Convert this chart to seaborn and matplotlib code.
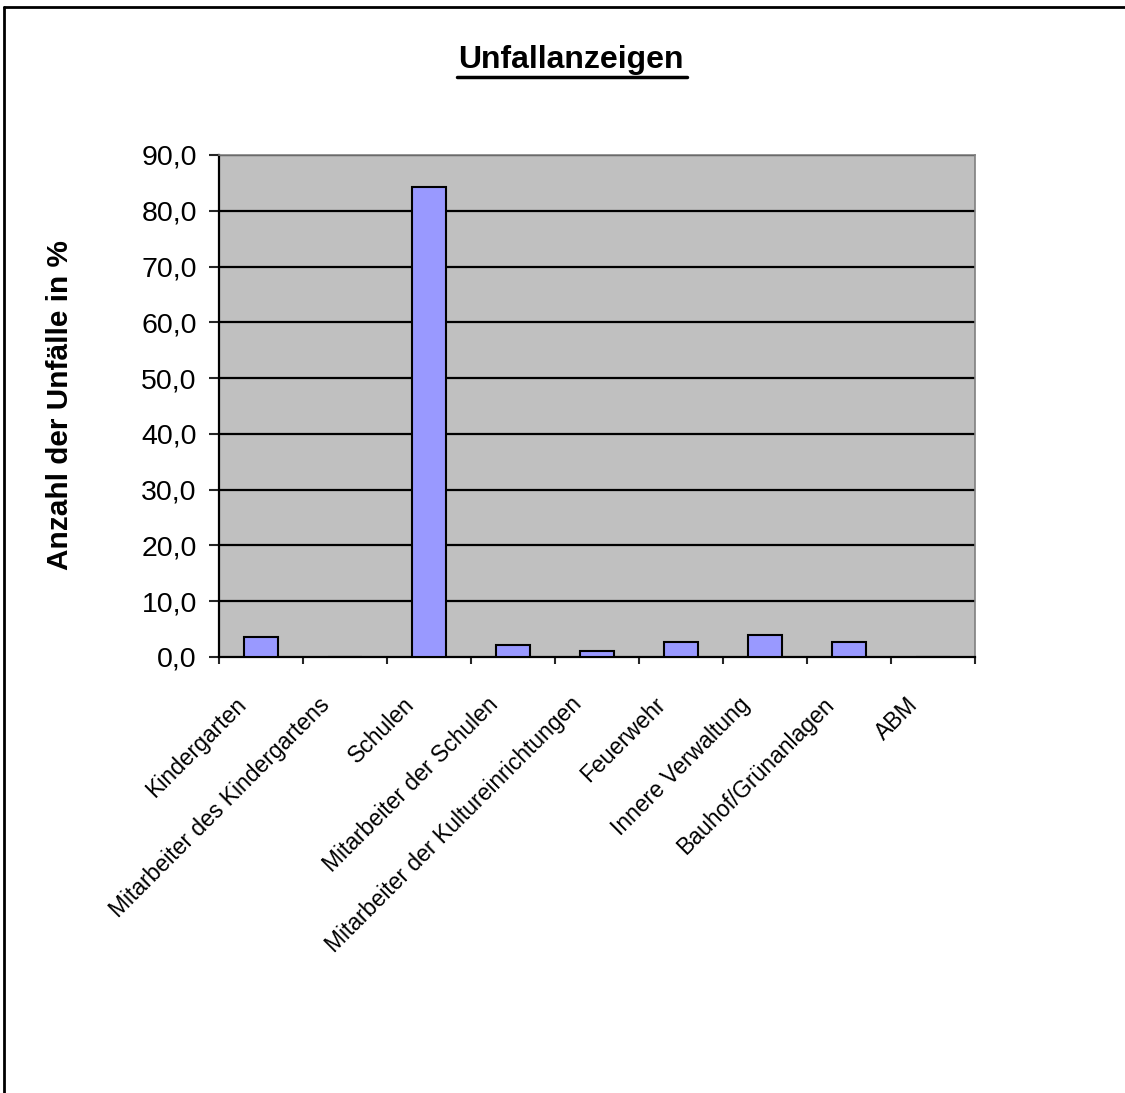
import matplotlib
matplotlib.use('Agg')
import matplotlib.pyplot as plt
import matplotlib.lines as mlines
import matplotlib.transforms as mtransforms
import seaborn as sns
import pandas as pd
from matplotlib.ticker import FuncFormatter, FixedLocator

# data
categories = ['Kindergarten', 'Mitarbeiter des Kindergartens', 'Schulen',
              'Mitarbeiter der Schulen', 'Mitarbeiter der Kultureinrichtungen',
              'Feuerwehr', 'Innere Verwaltung', 'Bauhof/Grünanlagen', 'ABM']
values = [3.6, 0.0, 84.3, 2.2, 1.1, 2.6, 4.0, 2.6, 0.0]
yticks = [0, 10, 20, 30, 40, 50, 60, 70, 80, 90]

df = pd.DataFrame({'Bereich': categories, 'Prozent': values})

sns.set_style('white')
plt.rcParams['font.family'] = ['Liberation Sans', 'DejaVu Sans']
plt.rcParams['text.color'] = 'black'

W, H = 1125, 1093
fig = plt.figure(figsize=(W / 100, H / 100), dpi=100)
ax = fig.add_axes([219/W, 1-657/H, (975-219)/W, (657-155)/H])
ax.set_facecolor('#C0C0C0')

sns.barplot(data=df, x='Bereich', y='Prozent', color='#9999FF', width=0.4,
            edgecolor='black', linewidth=1.5, saturation=1, ax=ax, zorder=3)

ax.set_ylim(0, 90)
ax.set_xlim(-0.5, len(categories) - 0.5)
ax.set_yticks(yticks)
ax.yaxis.set_major_formatter(FuncFormatter(lambda v, p: f'{v:.1f}'.replace('.', ',')))
ax.tick_params(axis='y', labelsize=20.5, labelcolor='black', length=7, width=1.5,
               direction='out', left=True, pad=9)
for t in yticks[1:]:
    ax.axhline(t, color='black', linewidth=1.6, zorder=1)

# category ticks between categories, labels at centres
ax.xaxis.set_major_locator(FixedLocator([i - 0.5 for i in range(len(categories) + 1)]))
ax.xaxis.set_major_formatter(FuncFormatter(lambda v, p: ''))
ax.xaxis.set_minor_locator(FixedLocator(list(range(len(categories)))))
ax.set_xticklabels(categories, minor=True, rotation=45, ha='right', va='baseline',
                   rotation_mode='anchor', fontsize=16.5, color='black')
ax.tick_params(axis='x', which='major', length=5, width=1.5, direction='out', bottom=True)
ax.tick_params(axis='x', which='minor', length=0, pad=35)
shift = mtransforms.ScaledTranslation(-14/100, 0, fig.dpi_scale_trans)
for lab in ax.get_xticklabels(minor=True):
    lab.set_transform(lab.get_transform() + shift)

for s in ['left', 'bottom']:
    ax.spines[s].set_color('black')
    ax.spines[s].set_linewidth(1.6)
for s in ['top', 'right']:
    ax.spines[s].set_color('#808080')
    ax.spines[s].set_linewidth(1.2)

ax.set_xlabel('')
ax.set_ylabel('')
fig.text(60/W, 1-405/H, 'Anzahl der Unfälle in %', rotation=90, ha='center', va='center',
         fontsize=21.4, fontweight='bold')

fig.text(571/W, 1-68/H, 'Unfallanzeigen', ha='center', va='baseline',
         fontsize=23, fontweight='bold')
# underline for the title
fig.add_artist(mlines.Line2D([457/W, 687/W], [1-77/H, 1-77/H], color='black', linewidth=2.5))

# outer chart frame (top and left visible)
fig.add_artist(mlines.Line2D([4/W, 1.0], [1-7/H, 1-7/H], color='black', linewidth=2))
fig.add_artist(mlines.Line2D([4/W, 4/W], [0, 1-7/H], color='black', linewidth=2))

fig.savefig('out.png', dpi=100)
